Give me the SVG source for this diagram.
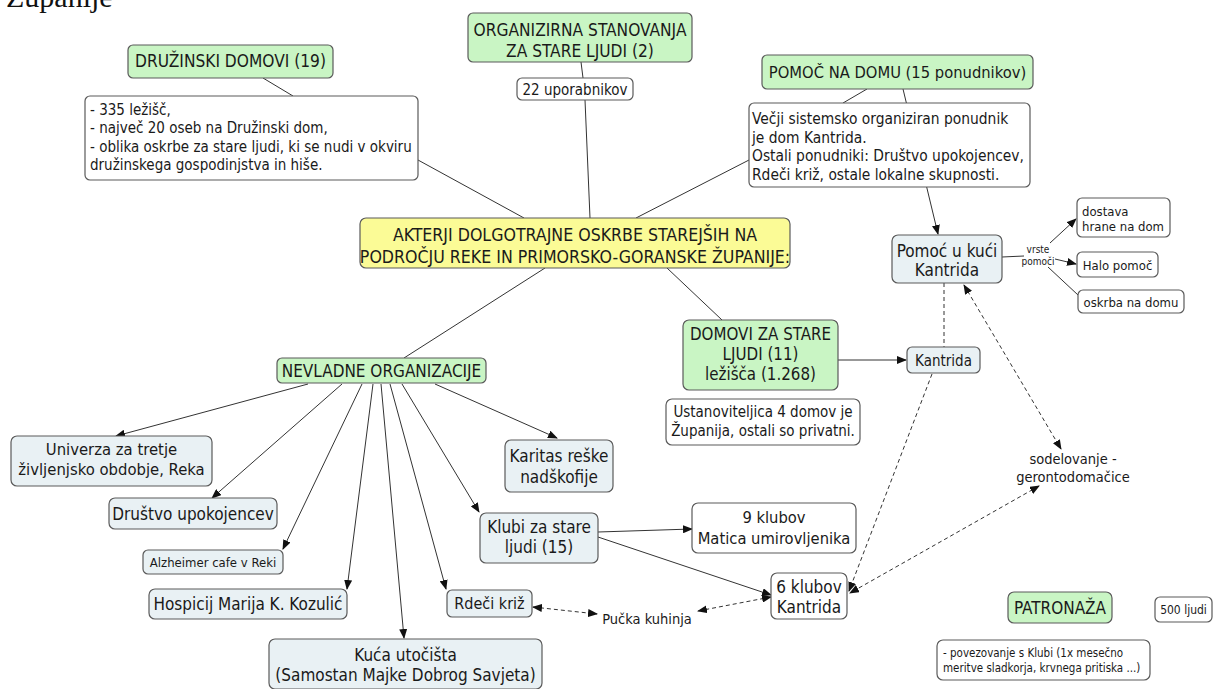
<svg xmlns="http://www.w3.org/2000/svg" width="1216" height="689" viewBox="0 0 1216 689">
<defs>
<marker id="arr" markerWidth="10" markerHeight="8" refX="9" refY="4" orient="auto-start-reverse" markerUnits="userSpaceOnUse">
<path d="M0,0 L10,4 L0,8 Z" fill="#111"/>
</marker>
<style>
text{font-family:"DejaVu Sans Condensed","DejaVu Sans",sans-serif;fill:#1a1a1a;text-anchor:middle}
.l{text-anchor:start}
.n rect{stroke:#5a5a5a;stroke-width:1.2}
.g{fill:#c9f5c4}
.y{fill:#fbfb96}
.b{fill:#e9f1f4}
.w{fill:#ffffff}
.c line{stroke:#333;stroke-width:1}
.a{marker-end:url(#arr)}
.d{stroke-dasharray:4 3}
.dd{stroke-dasharray:4 3;marker-start:url(#arr);marker-end:url(#arr)}
.f13{font-size:13px}
.f15{font-size:15px}
.f16{font-size:16px}
.f17{font-size:17px}
</style>
</defs>
<rect width="1216" height="689" fill="#ffffff"/>
<text class="l" x="6" y="7" style="font-family:'Liberation Serif',serif;font-size:30px;fill:#111">Županije</text>

<g id="connectors" class="c">
<line x1="263" y1="78" x2="293" y2="96"/>
<line x1="418" y1="160" x2="524" y2="218"/>
<line x1="581" y1="62" x2="583" y2="78"/>
<line x1="585" y1="100" x2="590" y2="218"/>
<line x1="867" y1="89" x2="843" y2="103"/>
<line x1="749" y1="160" x2="636" y2="218"/>
<line x1="545" y1="268" x2="404" y2="358"/>
<line x1="667" y1="268" x2="722" y2="320"/>
<line class="a" x1="903" y1="89" x2="938" y2="234"/>
<line class="a" x1="838" y1="360" x2="906" y2="360"/>
<line x1="1002" y1="257" x2="1024" y2="256"/>
<line class="a" x1="1050" y1="243" x2="1076" y2="219"/>
<line class="a" x1="1055" y1="259" x2="1076" y2="264"/>
<line x1="1048" y1="267" x2="1078" y2="295"/>
<line class="d" x1="944" y1="283" x2="944" y2="347"/>
<line class="d a" x1="932" y1="374" x2="849" y2="591"/>
<line class="dd" x1="964" y1="285" x2="1061" y2="449"/>
<line class="dd" x1="1039" y1="486" x2="850" y2="593"/>
<line class="a" x1="308" y1="384" x2="116" y2="436"/>
<line class="a" x1="342" y1="384" x2="212" y2="498"/>
<line class="a" x1="362" y1="384" x2="283" y2="549"/>
<line class="a" x1="373" y1="384" x2="347" y2="589"/>
<line class="a" x1="381" y1="384" x2="404" y2="638"/>
<line class="a" x1="390" y1="384" x2="446" y2="589"/>
<line class="a" x1="402" y1="384" x2="479" y2="512"/>
<line class="a" x1="435" y1="384" x2="557" y2="438"/>
<line class="a" x1="598" y1="532" x2="692" y2="529"/>
<line class="a" x1="598" y1="537" x2="771" y2="595"/>
<line class="dd" x1="771" y1="597" x2="698" y2="611"/>
<line class="dd" x1="533" y1="607" x2="597" y2="614"/>
</g>

<g class="n">
<g id="n-druzinski">
<rect class="g" x="128" y="45" width="205" height="33" rx="5"/>
<text style="font-size:17.2px" x="230.5" y="67">DRUŽINSKI DOMOVI (19)</text>
</g>
<g id="n-druzinski-info">
<rect class="w" x="85" y="96" width="333" height="84" rx="5"/>
<text class="l f15" x="90" y="115">- 335 ležišč,</text>
<text class="l f15" x="90" y="133">- največ 20 oseb na Družinski dom,</text>
<text class="l f15" x="90" y="152">- oblika oskrbe za stare ljudi, ki se nudi v okviru</text>
<text class="l f15" x="90" y="170">družinskega gospodinjstva in hiše.</text>
</g>

<g id="n-organizirna">
<rect class="g" x="468" y="13" width="224" height="49" rx="5"/>
<text style="font-size:17.2px" x="580" y="36">ORGANIZIRNA STANOVANJA</text>
<text style="font-size:17.2px" x="580" y="57">ZA STARE LJUDI (2)</text>
</g>
<g id="n-22">
<rect class="w" x="517" y="78" width="116" height="22" rx="5"/>
<text class="f15" x="575" y="94.5">22 uporabnikov</text>
</g>

<g id="n-pomoc-na-domu">
<rect class="g" x="762" y="55" width="271" height="34" rx="5"/>
<text style="font-size:16.4px" x="897.5" y="78">POMOČ NA DOMU (15 ponudnikov)</text>
</g>
<g id="n-pomoc-info">
<rect class="w" x="749" y="103" width="281" height="84" rx="5"/>
<text class="l" style="font-size:15.4px" x="752" y="124">Večji sistemsko organiziran ponudnik</text>
<text class="l" style="font-size:15.4px" x="752" y="143">je dom Kantrida.</text>
<text class="l" style="font-size:15.4px" x="752" y="161">Ostali ponudniki: Društvo upokojencev,</text>
<text class="l" style="font-size:15.4px" x="752" y="180">Rdeči križ, ostale lokalne skupnosti.</text>
</g>

<g id="n-center">
<rect class="y" x="360" y="218" width="430" height="50" rx="6"/>
<text style="font-size:17.6px" x="575" y="241">AKTERJI DOLGOTRAJNE OSKRBE STAREJŠIH NA</text>
<text style="font-size:17.6px" x="575" y="263">PODROČJU REKE IN PRIMORSKO-GORANSKE ŽUPANIJE:</text>
</g>

<g id="n-domovi">
<rect class="g" x="683" y="320" width="155" height="70" rx="6"/>
<text style="font-size:16.8px" x="760.5" y="340">DOMOVI ZA STARE</text>
<text style="font-size:16.8px" x="760.5" y="360">LJUDI (11)</text>
<text style="font-size:16.8px" x="760.5" y="380">ležišča (1.268)</text>
</g>
<g id="n-ustanoviteljica">
<rect class="w" x="666" y="399" width="194" height="46" rx="6"/>
<text class="f15" x="763" y="417">Ustanoviteljica 4 domov je</text>
<text class="f15" x="763" y="436">Županija, ostali so privatni.</text>
</g>

<g id="n-pomoc-kuci">
<rect class="b" x="892" y="235" width="110" height="48" rx="6"/>
<text class="f17" x="947" y="257">Pomoć u kući</text>
<text class="f17" x="947" y="276">Kantrida</text>
</g>
<g id="n-vrste">
<text style="font-size:10px" x="1038" y="253">vrste</text>
<text style="font-size:10px" x="1038" y="265">pomoči</text>
</g>
<g id="n-dostava">
<rect class="w" x="1077" y="198" width="93" height="39" rx="5"/>
<text class="l f13" x="1082" y="216">dostava</text>
<text class="l f13" x="1082" y="231">hrane na dom</text>
</g>
<g id="n-halo">
<rect class="w" x="1077" y="252" width="81" height="25" rx="5"/>
<text class="f13" x="1117.5" y="269.5">Halo pomoč</text>
</g>
<g id="n-oskrba">
<rect class="w" x="1078" y="290" width="106" height="23" rx="5"/>
<text class="f13" x="1131" y="306.5">oskrba na domu</text>
</g>

<g id="n-kantrida">
<rect class="b" x="907" y="347" width="73" height="26" rx="5"/>
<text class="f15" x="943.5" y="365.5">Kantrida</text>
</g>

<g id="n-sodelovanje">
<text style="font-size:14.5px" x="1073" y="464">sodelovanje -</text>
<text style="font-size:14.5px" x="1073" y="482">gerontodomačice</text>
</g>

<g id="n-nevladne">
<rect class="g" x="277" y="358" width="209" height="25" rx="5"/>
<text class="f17" x="381.5" y="376.5">NEVLADNE ORGANIZACIJE</text>
</g>

<g id="n-univerza">
<rect class="b" x="11" y="436" width="201" height="50" rx="6"/>
<text style="font-size:16.5px" x="111.5" y="455">Univerza za tretje</text>
<text style="font-size:16.5px" x="111.5" y="475">življenjsko obdobje, Reka</text>
</g>
<g id="n-drustvo">
<rect class="b" x="109" y="498" width="168" height="31" rx="6"/>
<text class="f17" x="193" y="520">Društvo upokojencev</text>
</g>
<g id="n-alzheimer">
<rect class="b" x="143" y="550" width="140" height="24" rx="5"/>
<text class="f13" x="213" y="566.5">Alzheimer cafe v Reki</text>
</g>
<g id="n-hospicij">
<rect class="b" x="149" y="589" width="198" height="30" rx="6"/>
<text class="f17" x="248" y="610">Hospicij Marija K. Kozulić</text>
</g>
<g id="n-kuca">
<rect class="b" x="269" y="639" width="273" height="50" rx="6"/>
<text class="f17" x="405.5" y="661">Kuća utočišta</text>
<text class="f17" x="405.5" y="681">(Samostan Majke Dobrog Savjeta)</text>
</g>
<g id="n-rdeci">
<rect class="b" x="447" y="590" width="85" height="27" rx="5"/>
<text class="f16" x="489.5" y="609">Rdeči križ</text>
</g>
<g id="n-karitas">
<rect class="b" x="505" y="440" width="108" height="52" rx="6"/>
<text class="f17" x="559" y="462">Karitas reške</text>
<text class="f17" x="559" y="483">nadškofije</text>
</g>
<g id="n-klubi">
<rect class="b" x="480" y="513" width="118" height="50" rx="6"/>
<text class="f17" x="539" y="533">Klubi za stare</text>
<text class="f17" x="539" y="553">ljudi (15)</text>
</g>
<g id="n-9klubov">
<rect class="w" x="692" y="503" width="164" height="50" rx="6"/>
<text style="font-size:16.4px" x="774" y="523">9 klubov</text>
<text style="font-size:16.4px" x="774" y="544">Matica umirovljenika</text>
</g>
<g id="n-6klubov">
<rect class="w" x="771" y="573" width="76" height="46" rx="6"/>
<text class="f17" x="809" y="593">6 klubov</text>
<text class="f17" x="809" y="613">Kantrida</text>
</g>
<g id="n-pucka">
<text style="font-size:14.5px" x="647" y="624">Pučka kuhinja</text>
</g>

<g id="n-patronaza">
<rect class="g" x="1008" y="592" width="104" height="31" rx="6"/>
<text class="f17" x="1060" y="614">PATRONAŽA</text>
</g>
<g id="n-500">
<rect class="w" x="1155" y="597" width="57" height="25" rx="5"/>
<text style="font-size:12px" x="1183.5" y="613.5">500 ljudi</text>
</g>
<g id="n-povezovanje">
<rect class="w" x="937" y="640" width="213" height="40" rx="6"/>
<text class="l" style="font-size:11.5px" x="943" y="657">- povezovanje s Klubi (1x mesečno</text>
<text class="l" style="font-size:11.5px" x="943" y="672">meritve sladkorja, krvnega pritiska ...)</text>
</g>
</g>
</svg>
